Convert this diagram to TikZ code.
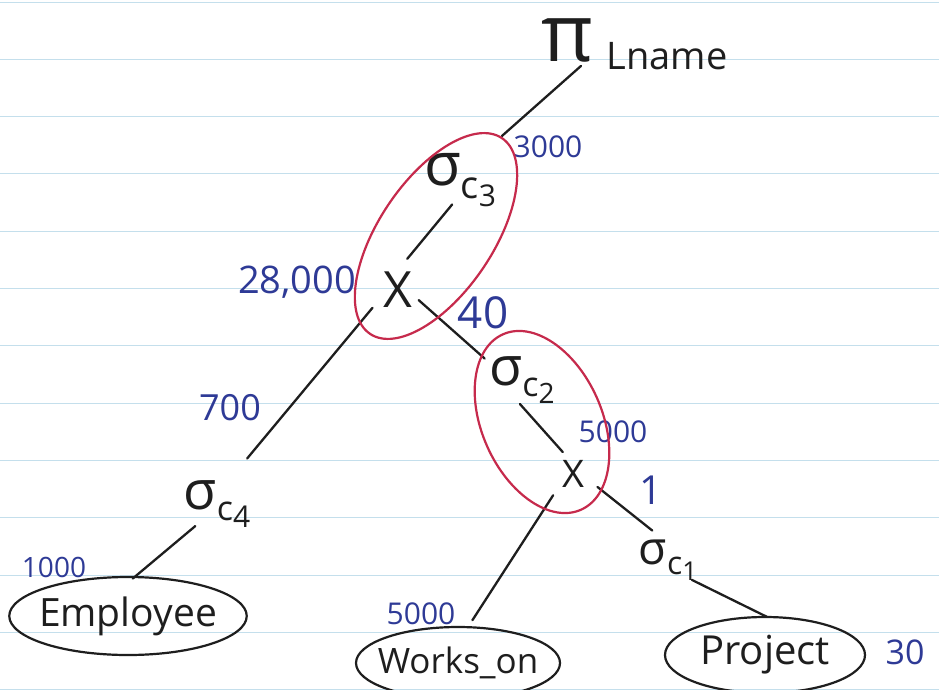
\documentclass[tikz,border=0pt]{standalone}
\usepackage{fontspec}
\setmainfont{Open Sans}
\usetikzlibrary{shapes.geometric}
\definecolor{ink}{HTML}{1E1E1E}
\definecolor{pen}{HTML}{2E3A96}
\definecolor{marker}{HTML}{C62A4C}
\definecolor{ruling}{HTML}{C4DFEC}
\newcommand{\sz}[1]{\fontsize{#1}{#1}\selectfont}
% selection operator: sigma with a subscripted condition c_k
\newcommand{\selop}[4]{{\sz{#1}σ}\raisebox{-0.22\dimexpr#1pt\relax}{{\sz{#2}c}\raisebox{-0.2\dimexpr#2pt\relax}{\sz{#3}#4}}}
\begin{document}
\begin{tikzpicture}[x=1pt,y=-1pt,
  edge/.style={draw=ink,line width=2.3pt,line cap=round},
  lbl/.style={text=pen,inner sep=0pt},
  opnode/.style={text=ink,inner sep=0pt},
  rel/.style={ellipse,draw=ink,line width=2.2pt,text=ink,inner ysep=0pt},
  group/.style={draw=marker,line width=2.2pt}]
\useasboundingbox (0,0) rectangle (939,690);
\fill[white] (0,0) rectangle (939,690);
% ruled paper
\foreach \k in {0,...,12}
  \draw[ruling,line width=0.9pt] (0,2+57.3*\k) -- (939,2+57.3*\k);

% operators
\node[opnode] (pi) at (567,40) {\sz{80}π};
\node[opnode] (lname) at (667,56) {\sz{38}Lname};
\node[opnode] (s3) at (460,180) {\selop{60}{38}{30}{3}};
\node[opnode] (x1) at (398,290) {\sz{50}X};
\node[opnode] (s2) at (522,380) {\selop{54}{34}{28}{2}};
\node[opnode] (x2) at (573,474) {\sz{38}X};
\node[opnode] (s1) at (668,560) {\selop{46}{32}{26}{1}};
\node[opnode] (s4) at (217,504) {\selop{54}{34}{30}{4}};

% relations
\node[rel,inner xsep=-5pt,minimum width=232pt,minimum height=78pt] (emp) at (128,616) {\sz{39}Employee};
\node[rel,inner xsep=-9pt,minimum width=204pt,minimum height=72pt] (works) at (458,663) {\sz{35}Works\_on};
\node[rel,inner xsep=0pt,minimum width=200pt,minimum height=76pt] (proj) at (765,655) {\sz{40}Project};

% estimated sizes
\node[lbl] (n3000) at (548,147) {\sz{30}3000};
\node[lbl] (n28000) at (297,282) {\sz{38}28,000};
\node[lbl] (n40) at (483,313) {\sz{44}40};
\node[lbl] (n700) at (230,408) {\sz{36}700};
\node[lbl] (n5000a) at (613,432) {\sz{30}5000};
\node[lbl] (n1) at (651,490) {\sz{40}1};
\node[lbl] (n5000b) at (421,614) {\sz{30}5000};
\node[lbl] (n1000) at (54,567) {\sz{28}1000};
\node[lbl] (n30) at (905,652) {\sz{34}30};

% tree edges
\draw[edge,shorten <=6pt,shorten >=26pt] (pi.-50) -- (s3.50);
\draw[edge,shorten <=-3pt,shorten >=17pt] (s3.250) -- (x1.95);
\draw[edge,shorten <=17pt,shorten >=28pt] (x1.198) -- (s4.63);
\draw[edge,shorten <=8pt,shorten >=6pt] (x1.-18) -- (s2.152);
\draw[edge,shorten <=0pt,shorten >=11pt] (s2.265) -- (x2.102);
\draw[edge,shorten <=16pt,shorten >=7pt] (x2.215) -- (works.74);
\draw[edge,shorten <=17pt,shorten >=14pt] (x2.-12.5) -- (s1.103);
\draw[edge,shorten <=-2pt,shorten >=-2pt] (s1.-39) -- (proj.90);
\draw[edge,shorten <=-3pt,shorten >=-4pt] (s4.225) -- (emp.79);

% grouped operators
\draw[group,rotate around={56:(436,236)}] (436,236) ellipse [x radius=118pt,y radius=57pt];
\draw[group,rotate around={-66:(542,422)}] (542,422) ellipse [x radius=96pt,y radius=60pt];
\end{tikzpicture}
\end{document}
